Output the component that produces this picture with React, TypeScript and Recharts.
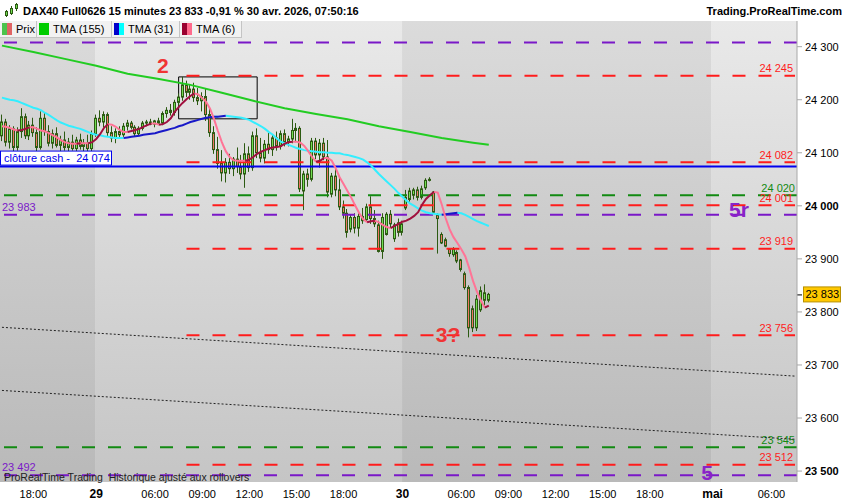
import React from 'react';
import {
  ComposedChart,
  Bar,
  Line,
  XAxis,
  YAxis,
  ReferenceLine,
  ReferenceArea,
  ReferenceDot,
} from 'recharts';

const FONT = '"Liberation Sans", Arial, sans-serif';

// 15 minute bars: [open, high, low, close]
const candles: number[][] = [
  [24132, 24172, 24122, 24158], [24158, 24164, 24112, 24120], [24120, 24152, 24108, 24145],
  [24145, 24150, 24100, 24110], [24110, 24148, 24104, 24140], [24140, 24184, 24128, 24168],
  [24168, 24174, 24126, 24132], [24132, 24160, 24124, 24152], [24152, 24166, 24130, 24138],
  [24138, 24148, 24102, 24110], [24110, 24178, 24106, 24165], [24165, 24176, 24132, 24140],
  [24140, 24152, 24112, 24118], [24118, 24144, 24108, 24136], [24136, 24148, 24110, 24114],
  [24114, 24132, 24098, 24124], [24124, 24140, 24104, 24110], [24110, 24128, 24096, 24120],
  [24120, 24134, 24104, 24108], [24108, 24130, 24094, 24124], [24124, 24136, 24106, 24112],
  [24112, 24126, 24092, 24118], [24118, 24134, 24100, 24108], [24108, 24142, 24102, 24136],
  [24136, 24172, 24130, 24165], [24165, 24180, 24150, 24158], [24158, 24178, 24148, 24172],
  [24172, 24176, 24130, 24138], [24138, 24150, 24120, 24128], [24128, 24146, 24118, 24140],
  [24140, 24150, 24128, 24134], [24134, 24156, 24130, 24150], [24150, 24162, 24142, 24156],
  [24156, 24160, 24144, 24148], [24148, 24152, 24130, 24136], [24136, 24150, 24132, 24146],
  [24146, 24160, 24142, 24156], [24156, 24162, 24150, 24158], [24158, 24164, 24152, 24154],
  [24154, 24162, 24148, 24160], [24160, 24166, 24152, 24156], [24156, 24178, 24152, 24174],
  [24174, 24186, 24166, 24180], [24180, 24192, 24170, 24176], [24176, 24200, 24170, 24195],
  [24195, 24212, 24185, 24205], [24205, 24243, 24198, 24228], [24228, 24236, 24205, 24214],
  [24214, 24228, 24200, 24220], [24220, 24232, 24196, 24204], [24204, 24222, 24190, 24198],
  [24198, 24214, 24178, 24206], [24206, 24222, 24160, 24172], [24172, 24186, 24130, 24138],
  [24138, 24150, 24098, 24106], [24106, 24130, 24070, 24080], [24080, 24105, 24046, 24062],
  [24062, 24090, 24044, 24082], [24082, 24098, 24060, 24070], [24070, 24092, 24056, 24088],
  [24088, 24110, 24062, 24074], [24074, 24096, 24050, 24060], [24060, 24118, 24034, 24098],
  [24098, 24112, 24064, 24072], [24072, 24140, 24066, 24132], [24132, 24146, 24090, 24100],
  [24100, 24128, 24082, 24090], [24090, 24124, 24080, 24116], [24116, 24138, 24098, 24106],
  [24106, 24134, 24094, 24128], [24128, 24140, 24104, 24112], [24112, 24142, 24106, 24136],
  [24136, 24144, 24112, 24120], [24120, 24132, 24112, 24126], [24126, 24164, 24118, 24142],
  [24142, 24156, 24120, 24146], [24146, 24150, 24026, 24032], [24028, 24066, 23992, 24060],
  [24060, 24070, 24036, 24050], [24050, 24128, 24046, 24122], [24122, 24128, 24088, 24096],
  [24096, 24126, 24072, 24118], [24118, 24128, 24086, 24092], [24092, 24124, 24016, 24026],
  [24022, 24062, 24016, 24056], [24056, 24072, 24018, 24030], [24030, 24054, 23992, 23998],
  [23998, 24010, 23976, 23986], [23986, 23994, 23940, 23950], [23956, 23984, 23950, 23978],
  [23978, 23986, 23948, 23958], [23958, 23986, 23942, 23980], [23980, 23996, 23966, 23972],
  [23974, 24004, 23970, 23998], [23998, 24018, 23966, 23976], [23976, 23992, 23960, 23966],
  [23964, 23972, 23912, 23914], [23914, 23986, 23900, 23978], [23946, 23988, 23944, 23984],
  [23984, 23992, 23958, 23966], [23938, 23968, 23932, 23964], [23968, 23976, 23942, 23950],
  [23950, 23972, 23944, 23966], [23996, 24030, 23992, 24016], [24012, 24034, 24008, 24028],
  [24020, 24034, 24012, 24030], [24030, 24036, 24010, 24016], [24016, 24038, 24012, 24032],
  [24034, 24052, 24030, 24048], [24048, 24054, 24046, 24050], [24026, 24028, 23986, 23988],
  [23982, 23986, 23910, 23976], [23946, 23950, 23928, 23930], [23936, 23940, 23922, 23924],
  [23918, 23920, 23904, 23910], [23908, 23922, 23904, 23918], [23912, 23916, 23892, 23896],
  [23898, 23900, 23876, 23880], [23872, 23876, 23842, 23846], [23846, 23850, 23752, 23770],
  [23806, 23812, 23762, 23770], [23770, 23832, 23764, 23824], [23804, 23848, 23800, 23840],
  [23822, 23852, 23812, 23836], [23822, 23836, 23818, 23833],
];

// TMA (155), read every 8 bars
const tma155Points: [number, number][] = [
  [0, 24302], [8, 24290], [16, 24277], [24, 24264], [32, 24249], [40, 24239],
  [48, 24228], [56, 24213], [64, 24198], [72, 24184], [80, 24173], [88, 24163],
  [96, 24150], [104, 24139], [112, 24128], [120, 24119], [124, 24115],
];

const tma31: number[] = [
  24204, 24202, 24200, 24199, 24197, 24194, 24191, 24188, 24185, 24183,
  24180, 24175, 24171, 24166, 24161, 24157, 24154, 24151, 24149, 24147,
  24145, 24142, 24139, 24136, 24134, 24133, 24131, 24130, 24129, 24128,
  24128, 24128, 24129, 24130, 24131, 24132, 24134, 24135, 24136, 24137,
  24139, 24141, 24143, 24145, 24147, 24150, 24152, 24155, 24158, 24160,
  24162, 24164, 24166, 24167, 24168, 24168, 24169, 24170, 24169, 24168,
  24167, 24166, 24164, 24162, 24158, 24154, 24150, 24145, 24139, 24134,
  24127, 24121, 24118, 24115, 24112, 24109, 24107, 24105, 24104, 24103,
  24102, 24101, 24101, 24100, 24100, 24099, 24099, 24097, 24096, 24094,
  24092, 24090, 24087, 24082, 24076, 24068, 24060, 24053, 24046, 24039,
  24032, 24024, 24017, 24010, 24004, 24000, 23995, 23991, 23988, 23986,
  23985, 23984, 23983, 23984, 23985, 23986, 23987, 23986, 23983, 23979,
  23975, 23971, 23968, 23965, 23962,
];

const tma6: number[] = [
  24150, 24149, 24147, 24144, 24142, 24143, 24145, 24148, 24148, 24145,
  24142, 24140, 24137, 24133, 24129, 24124, 24120, 24118, 24117, 24117,
  24118, 24118, 24118, 24120, 24126, 24135, 24147, 24154, 24153, 24149,
  24143, 24139, 24139, 24141, 24143, 24145, 24149, 24152, 24155, 24155,
  24153, 24154, 24158, 24165, 24177, 24186, 24194, 24201, 24207, 24212,
  24210, 24203, 24196, 24183, 24164, 24141, 24120, 24103, 24092, 24086,
  24085, 24085, 24085, 24087, 24092, 24098, 24102, 24105, 24108, 24110,
  24111, 24112, 24117, 24120, 24121, 24121, 24119, 24113, 24103, 24092,
  24083, 24085, 24090, 24090, 24085, 24071, 24054, 24041, 24028, 24015,
  24000, 23986, 23975, 23969, 23971, 23972, 23969, 23964, 23960, 23958,
  23962, 23966, 23970, 23972, 23976, 23981, 23988, 24002, 24013, 24020,
  24026, 24025, 24003, 23977, 23956, 23941, 23930, 23918, 23905, 23883,
  23858, 23838, 23821, 23808, 23812,
];

// horizontal levels
const purpleLevels = [24308, 23983, 23492];
const purpleLabelled = [23983, 23492];
const redLevels = [24245, 24082, 24001, 23919, 23756, 23512];
const greenLevels = [24020, 23545];
const cashClose = 24074;
const lastPrice = 23833;
const redStart = 47;

// dotted trend lines: [value at first slot, value at last slot]
const trendLines = [
  [23771, 23679],
  [23652, 23560],
];

const box = { x1: 45, x2: 65, y1: 24164, y2: 24243 };

const waveLabels = [
  { text: '2', i: 41, price: 24263, tone: 'red' },
  { text: '3?', i: 113.6, price: 23756, tone: 'red' },
  { text: '5r', i: 187.7, price: 23992, tone: 'purple' },
  { text: '5', i: 179.6, price: 23497, tone: 'purple' },
];

// session starts in bar units
const sessionBreaks = [23.7, 101.9, 180.6];

const xTicks = [8, 24, 39, 51, 63, 75, 87, 102, 117, 129, 141, 153, 165, 181, 196];
const xTickLabels = ['18:00', '29', '06:00', '09:00', '12:00', '15:00', '18:00', '30', '06:00', '09:00', '12:00', '15:00', '18:00', 'mai', '06:00'];
const boldXLabels = ['29', '30', 'mai'];
const yTicks = [23500, 23600, 23700, 23800, 23900, 24000, 24100, 24200, 24300];
const boldYTicks = [24000, 23500];

const SLOTS = 203;
const Y_DOMAIN: [number, number] = [23479.4, 24348.4];

const RED = '#ff1c1c';
const GREEN = '#128a12';
const PURPLE = '#7a18c8';
const DARK = '#2c5a12';

const fmt = (v: number) => {
  const s = String(Math.round(v));
  return s.slice(0, -3) + ' ' + s.slice(-3);
};

function splitBySlope(vals: number[]) {
  const up: (number | null)[] = vals.map(() => null);
  const down: (number | null)[] = vals.map(() => null);
  for (let k = 0; k < vals.length - 1; k++) {
    const target = vals[k + 1] > vals[k] ? up : down;
    target[k] = vals[k];
    target[k + 1] = vals[k + 1];
  }
  return { up, down };
}

const t31 = splitBySlope(tma31);
const t6 = splitBySlope(tma6);
const t155 = new Map(tma155Points);

const rows = Array.from({ length: SLOTS }, (_, i) => {
  const row: any = { i };
  const k = candles[i];
  if (k) {
    row.o = k[0];
    row.h = k[1];
    row.l = k[2];
    row.c = k[3];
    row.range = [k[2], k[1]];
  }
  if (i < tma31.length) {
    row.t31up = t31.up[i];
    row.t31dn = t31.down[i];
    row.t6up = t6.up[i];
    row.t6dn = t6.down[i];
  }
  if (t155.has(i)) row.t155 = t155.get(i);
  if (i === 0) {
    row.trendA = trendLines[0][0];
    row.trendB = trendLines[1][0];
  }
  if (i === SLOTS - 1) {
    row.trendA = trendLines[0][1];
    row.trendB = trendLines[1][1];
  }
  return row;
});

const bands = [-0.5, ...sessionBreaks].map((start, n, arr) => ({
  x1: start,
  x2: n + 1 < arr.length ? arr[n + 1] : SLOTS - 0.5,
  dark: n % 2 === 0,
}));

const Candle = (props: any) => {
  const { x, y, width, height, payload } = props;
  if (!payload || payload.o == null) return null;
  const { o, h, l, c } = payload;
  const top = Math.min(y, y + height);
  const span = Math.abs(height);
  const py = (v: number) => (h === l ? top : top + ((h - v) / (h - l)) * span);
  const r = Math.floor(x + width / 2);
  const b1 = py(Math.max(o, c));
  const b2 = py(Math.min(o, c));
  return (
    <g>
      <line x1={r + 0.5} x2={r + 0.5} y1={top} y2={top + span} stroke={DARK} strokeWidth={1} />
      <rect
        x={r - 0.5}
        y={b1}
        width={2}
        height={Math.max(1, b2 - b1)}
        fill={c >= o ? '#72de52' : '#ec7563'}
        stroke={DARK}
        strokeWidth={1}
      />
    </g>
  );
};

const RightLabel = ({ viewBox, text, color }: any) => {
  if (!viewBox) return null;
  return (
    <text x={viewBox.x + viewBox.width - 2} y={viewBox.y - 3.5} textAnchor="end" fill={color} fontSize={11} fontFamily={FONT}>
      {text}
    </text>
  );
};

const LeftLabel = ({ viewBox, text, color }: any) => {
  if (!viewBox) return null;
  return (
    <text x={viewBox.x + 2} y={viewBox.y - 4} fill={color} fontSize={11} fontFamily={FONT}>
      {text}
    </text>
  );
};

const CashLabel = ({ viewBox, text }: any) => {
  if (!viewBox) return null;
  return (
    <g>
      <rect x={viewBox.x + 0.5} y={viewBox.y - 15.5} width={111} height={14} fill="#fff" stroke="#0000ee" strokeWidth={1} />
      <text x={viewBox.x + 4} y={viewBox.y - 4.5} fill="#0000ee" fontSize={11} fontFamily={FONT} style={{ whiteSpace: 'pre' }}>
        {text}
      </text>
    </g>
  );
};

const PriceBadge = ({ viewBox, text }: any) => {
  if (!viewBox) return null;
  const x0 = viewBox.x + viewBox.width;
  const y0 = viewBox.y;
  return (
    <g>
      <line x1={x0} x2={x0 + 5} y1={y0 + 0.5} y2={y0 + 0.5} stroke="#000" strokeWidth={1} />
      <rect x={x0 + 6.5} y={y0 - 7.5} width={37} height={15} fill="#ffc800" stroke="#b89000" strokeWidth={1} />
      <text x={x0 + 8.5} y={y0 + 4} fill="#000" fontSize={11} fontFamily={FONT}>
        {text}
      </text>
    </g>
  );
};

const WaveLabel = ({ viewBox, text, color }: any) => {
  if (!viewBox) return null;
  return (
    <text
      x={viewBox.x + viewBox.width / 2}
      y={viewBox.y + viewBox.height / 2}
      dy={7}
      textAnchor="middle"
      fill={color}
      fontSize={21}
      fontWeight="bold"
      fontFamily={FONT}
    >
      {text}
    </text>
  );
};

const XTick = ({ x, y, payload }: any) => {
  const label = xTickLabels[xTicks.indexOf(payload.value)] ?? '';
  const bold = boldXLabels.includes(label);
  return (
    <text x={x} y={y + 14} textAnchor="middle" fill="#000" fontSize={bold ? 12 : 11} fontWeight={bold ? 'bold' : 'normal'} fontFamily={FONT}>
      {label}
    </text>
  );
};

const YTick = ({ x, y, payload }: any) => (
  <text x={x} y={y + 4} fill="#000" fontSize={11} fontWeight={boldYTicks.includes(payload.value) ? 'bold' : 'normal'} fontFamily={FONT}>
    {fmt(payload.value)}
  </text>
);

const legendItems = [
  { name: 'Prix', colors: ['#4cc44c', '#e06464'], width: 37 },
  { name: 'TMA (155)', colors: ['#00cc00', '#00cc00'], width: 75 },
  { name: 'TMA (31)', colors: ['#0000cc', '#00ffff'], width: 68 },
  { name: 'TMA (6)', colors: ['#99002f', '#ff6a8c'], width: 62 },
];

export default function App() {
  return (
    <div style={{ position: 'absolute', left: 0, top: 0, width: 850, height: 500, background: '#fff', fontFamily: FONT, overflow: 'hidden' }}>
      <ComposedChart width={850} height={500} data={rows} margin={{ top: 21, right: 0, bottom: 0, left: 0 }}>
        <defs>
          <linearGradient id="bgLight" x1="0" y1="0" x2="0" y2="1">
            <stop offset="0%" stopColor="#e9e9e9" />
            <stop offset="100%" stopColor="#c5c5c5" />
          </linearGradient>
          <linearGradient id="bgDark" x1="0" y1="0" x2="0" y2="1">
            <stop offset="0%" stopColor="#dbdbdb" />
            <stop offset="100%" stopColor="#b9b9b9" />
          </linearGradient>
        </defs>
        <XAxis
          dataKey="i"
          type="number"
          domain={[-0.5, SLOTS - 0.5]}
          ticks={xTicks}
          interval={0}
          height={18}
          axisLine={false}
          tickLine={false}
          tickSize={0}
          tick={<XTick />}
          allowDataOverflow
        />
        <YAxis
          orientation="right"
          type="number"
          domain={Y_DOMAIN}
          ticks={yTicks}
          interval={0}
          width={53}
          axisLine={{ stroke: '#a8a8a8' }}
          tickLine={{ stroke: '#a8a8a8' }}
          tickSize={5}
          tickMargin={3}
          tick={<YTick />}
          allowDataOverflow
        />
        {bands.map((b, n) => (
          <ReferenceArea key={'band' + n} x1={b.x1} x2={b.x2} fill={b.dark ? 'url(#bgDark)' : 'url(#bgLight)'} fillOpacity={1} stroke="none" ifOverflow="visible" />
        ))}
        <ReferenceArea x1={box.x1} x2={box.x2} y1={box.y1} y2={box.y2} fill="none" stroke="#000" strokeWidth={1} />

        {purpleLevels.map((v) => (
          <ReferenceLine
            key={'p' + v}
            y={v}
            stroke={PURPLE}
            strokeWidth={2}
            strokeDasharray="13 13"
            label={purpleLabelled.includes(v) ? <LeftLabel text={fmt(v)} color={PURPLE} /> : undefined}
          />
        ))}
        {greenLevels.map((v) => (
          <ReferenceLine key={'g' + v} y={v} stroke={GREEN} strokeWidth={2} strokeDasharray="13 13" label={<RightLabel text={fmt(v)} color={GREEN} />} />
        ))}
        {redLevels.map((v) => (
          <ReferenceLine
            key={'r' + v}
            segment={[{ x: redStart, y: v }, { x: SLOTS - 1, y: v }]}
            stroke={RED}
            strokeWidth={2}
            strokeDasharray="13 13"
            label={<RightLabel text={fmt(v)} color={RED} />}
          />
        ))}
        <ReferenceLine y={cashClose} stroke="#0000ee" strokeWidth={2} label={<CashLabel text={'clôture cash -  ' + fmt(cashClose)} />} />

        <Line dataKey="trendA" stroke="#222" strokeWidth={1} strokeDasharray="2 2" dot={false} connectNulls isAnimationActive={false} />
        <Line dataKey="trendB" stroke="#222" strokeWidth={1} strokeDasharray="2 2" dot={false} connectNulls isAnimationActive={false} />

        <Bar dataKey="range" barSize={3} shape={<Candle />} isAnimationActive={false} />

        <Line dataKey="t155" stroke="#22cc22" strokeWidth={2} dot={false} connectNulls isAnimationActive={false} />
        <Line dataKey="t31dn" stroke="#33eeff" strokeWidth={2} dot={false} isAnimationActive={false} />
        <Line dataKey="t31up" stroke="#1818c8" strokeWidth={2} dot={false} isAnimationActive={false} />
        <Line dataKey="t6dn" stroke="#ff7496" strokeWidth={2} dot={false} isAnimationActive={false} />
        <Line dataKey="t6up" stroke="#a0103e" strokeWidth={2} dot={false} isAnimationActive={false} />

        <ReferenceLine y={lastPrice} stroke="none" strokeWidth={0} label={<PriceBadge text={fmt(lastPrice)} />} />

        {waveLabels.map((w) => (
          <ReferenceDot
            key={w.text}
            x={w.i}
            y={w.price}
            r={0}
            fill="none"
            stroke="none"
            label={<WaveLabel text={w.text} color={w.tone === 'red' ? '#f03434' : '#8a22c8'} />}
          />
        ))}
      </ComposedChart>

      <div style={{ position: 'absolute', left: 0, top: 0, width: 850, height: 20, background: '#fff' }}>
        <svg width={16} height={16} style={{ position: 'absolute', left: 3, top: 2 }}>
          <line x1={3.5} x2={3.5} y1={8} y2={15} stroke={DARK} />
          <rect x={2.5} y={9.5} width={2} height={4} fill="#72de52" stroke={DARK} />
          <line x1={8.5} x2={8.5} y1={4} y2={13} stroke={DARK} />
          <rect x={7.5} y={6.5} width={2} height={5} fill="#72de52" stroke={DARK} />
          <line x1={13.5} x2={13.5} y1={1} y2={9} stroke={DARK} />
          <rect x={12.5} y={2.5} width={2} height={4} fill="#72de52" stroke={DARK} />
        </svg>
        <span style={{ position: 'absolute', left: 23, top: 5, fontSize: 11, lineHeight: '13px', fontWeight: 'bold', color: '#000', whiteSpace: 'pre' }}>
          DAX40 Full0626 15 minutes 23 833 -0,91 % 30 avr. 2026, 07:50:16
        </span>
        <span style={{ position: 'absolute', right: 8, top: 5, fontSize: 11, lineHeight: '13px', fontWeight: 'bold', color: '#000' }}>
          Trading.ProRealTime.com
        </span>
      </div>

      <div style={{ position: 'absolute', left: 0, top: 21, height: 18, display: 'flex' }}>
        {legendItems.map((it) => (
          <div
            key={it.name}
            style={{
              width: it.width,
              height: 17,
              boxSizing: 'border-box',
              background: '#f2f2f2',
              borderRight: '1px solid #c4c4c4',
              borderBottom: '1px solid #c4c4c4',
              display: 'flex',
              alignItems: 'center',
              paddingLeft: 2,
              fontSize: 11,
              color: '#000',
              whiteSpace: 'pre',
            }}
          >
            <span style={{ display: 'inline-block', width: 5, height: 12, background: it.colors[0] }} />
            <span style={{ display: 'inline-block', width: 5, height: 12, background: it.colors[1], marginRight: 4 }} />
            {it.name}
          </div>
        ))}
      </div>

      <div style={{ position: 'absolute', left: 4, top: 471, fontSize: 10.5, lineHeight: '12px', color: '#222', whiteSpace: 'pre' }}>
        ProRealTime Trading  Historique ajusté aux rollovers
      </div>
    </div>
  );
}
